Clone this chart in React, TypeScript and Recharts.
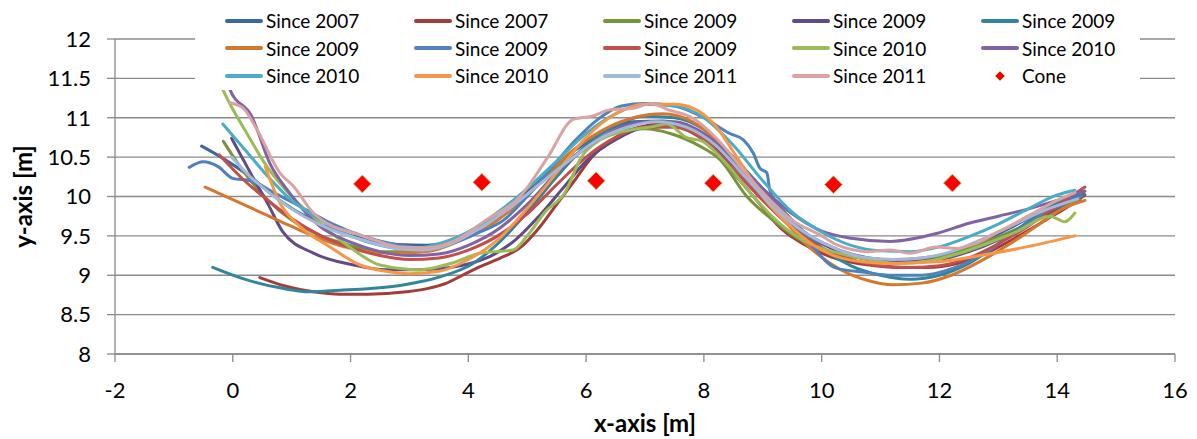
import React from 'react';
import {
  ComposedChart,
  Line,
  Scatter,
  XAxis,
  YAxis,
  CartesianGrid,
  Legend,
} from 'recharts';

type Pt = [number, number];

// driven track per run, [x, y] in metres
const since2007a: Pt[] = [
  [-0.53, 10.64], [-0.2, 10.5], [0.3, 10.25], [0.8, 9.95], [1.3, 9.72], [1.8, 9.55],
  [2.3, 9.45], [2.8, 9.39], [3.3, 9.38], [3.8, 9.46], [4.3, 9.65], [4.8, 9.92],
  [5.3, 10.27], [5.8, 10.58], [6.3, 10.82], [6.8, 10.95], [7.3, 10.96], [7.8, 10.86],
  [8.3, 10.6], [8.8, 10.2], [9.3, 9.8], [9.8, 9.5], [10.3, 9.32], [10.8, 9.22],
  [11.3, 9.19], [11.8, 9.21], [12.3, 9.3], [12.8, 9.45], [13.3, 9.64], [13.8, 9.84],
  [14.4, 10.02],
];
const since2007b: Pt[] = [
  [0.46, 8.97], [0.9, 8.86], [1.37, 8.79], [1.82, 8.76], [2.3, 8.76], [2.95, 8.79],
  [3.3, 8.83], [3.63, 8.9], [3.9, 9.0], [4.2, 9.11], [4.55, 9.22], [4.88, 9.35],
  [5.2, 9.6], [5.5, 9.9], [5.8, 10.2], [6.1, 10.5], [6.5, 10.75], [6.9, 10.88],
  [7.3, 10.92], [7.7, 10.85], [8.1, 10.65], [8.5, 10.3], [8.9, 9.95], [9.3, 9.6],
  [9.8, 9.35], [10.3, 9.2], [10.8, 9.13], [11.3, 9.1], [11.8, 9.1], [12.3, 9.15],
  [12.8, 9.28], [13.3, 9.48], [13.8, 9.7], [14.2, 9.88], [14.47, 10.02],
];
const since2009a: Pt[] = [
  [-0.16, 10.7], [0.2, 10.3], [0.6, 9.95], [1.0, 9.7], [1.5, 9.5], [2.0, 9.38],
  [2.5, 9.3], [3.0, 9.3], [3.5, 9.38], [4.0, 9.54], [4.5, 9.74], [5.0, 10.02],
  [5.5, 10.36], [6.0, 10.62], [6.58, 10.84], [7.0, 10.86], [7.43, 10.8], [7.93, 10.64],
  [8.27, 10.47], [8.73, 10.0], [9.17, 9.7], [9.7, 9.42], [10.2, 9.28], [10.7, 9.22],
  [11.2, 9.2], [11.7, 9.22], [12.2, 9.28], [12.7, 9.4], [13.2, 9.55], [13.7, 9.72],
  [14.2, 9.9], [14.4, 9.95],
];
const since2009b: Pt[] = [
  [-0.02, 10.74], [0.3, 10.3], [0.6, 9.9], [0.85, 9.55], [1.37, 9.28], [2.05, 9.13],
  [2.6, 9.07], [3.2, 9.07], [3.7, 9.1], [4.03, 9.15], [4.37, 9.24], [4.8, 9.45],
  [5.2, 9.75], [5.6, 10.1], [6.0, 10.45], [6.5, 10.72], [7.0, 10.88], [7.5, 10.9],
  [8.0, 10.75], [8.5, 10.4], [9.0, 10.0], [9.5, 9.65], [10.0, 9.4], [10.5, 9.25],
  [11.0, 9.18], [11.5, 9.17], [12.0, 9.2], [12.5, 9.3], [13.0, 9.45], [13.5, 9.65],
  [14.0, 9.85], [14.45, 10.05],
];
const since2009c: Pt[] = [
  [-0.34, 9.1], [0.2, 8.95], [0.8, 8.84], [1.31, 8.79], [1.82, 8.81], [2.3, 8.83],
  [2.84, 8.87], [3.2, 8.92], [3.52, 8.98], [4.08, 9.15], [4.5, 9.4], [5.0, 9.8],
  [5.5, 10.25], [6.0, 10.65], [6.5, 10.9], [7.0, 11.02], [7.5, 11.0], [8.0, 10.85],
  [8.5, 10.5], [9.0, 10.1], [9.5, 9.7], [10.0, 9.35], [10.5, 9.12], [11.0, 9.0],
  [11.5, 8.95], [12.0, 9.0], [12.5, 9.15], [13.0, 9.4], [13.5, 9.68], [14.0, 9.92],
  [14.44, 10.02],
];
const since2009d: Pt[] = [
  [-0.47, 10.12], [0.0, 9.96], [0.5, 9.79], [1.0, 9.62], [1.5, 9.46], [1.9, 9.36],
  [2.3, 9.3], [2.8, 9.28], [3.3, 9.3], [3.8, 9.42], [4.3, 9.6], [4.8, 9.88],
  [5.3, 10.25], [5.8, 10.6], [6.3, 10.85], [6.8, 11.0], [7.3, 11.05], [7.8, 10.95],
  [8.3, 10.65], [8.8, 10.2], [9.3, 9.75], [9.8, 9.35], [10.3, 9.08], [10.8, 8.93],
  [11.2, 8.88], [11.7, 8.9], [12.2, 9.0], [12.7, 9.18], [13.2, 9.4], [13.7, 9.65],
  [14.1, 9.85], [14.47, 9.95],
];
const since2009e: Pt[] = [
  [-0.74, 10.37], [-0.5, 10.44], [-0.25, 10.38], [0.0, 10.23], [0.3, 10.2], [0.7, 10.05],
  [1.2, 9.85], [1.7, 9.65], [2.2, 9.5], [2.7, 9.4], [3.2, 9.35], [3.7, 9.4],
  [4.2, 9.55], [4.6, 9.7], [5.0, 10.0], [5.4, 10.35], [5.8, 10.7], [6.2, 10.98],
  [6.6, 11.15], [7.0, 11.18], [7.5, 11.15], [8.0, 11.0], [8.44, 10.8], [8.67, 10.72],
  [8.84, 10.55], [8.95, 10.36], [9.07, 10.3], [9.12, 10.08], [9.3, 9.85], [9.7, 9.5],
  [10.25, 9.09], [10.7, 9.04], [11.2, 9.0], [11.7, 9.0], [12.2, 9.08], [12.7, 9.25],
  [13.2, 9.5], [13.7, 9.75], [14.4, 10.0],
];
const since2009f: Pt[] = [
  [-0.23, 10.53], [0.2, 10.2], [0.6, 9.95], [1.0, 9.72], [1.5, 9.5], [2.0, 9.35],
  [2.5, 9.25], [3.0, 9.2], [3.5, 9.22], [4.0, 9.32], [4.5, 9.5], [5.0, 9.78],
  [5.5, 10.15], [6.0, 10.5], [6.5, 10.75], [7.0, 10.88], [7.5, 10.88], [8.0, 10.72],
  [8.5, 10.35], [9.0, 9.95], [9.5, 9.6], [10.0, 9.35], [10.5, 9.2], [11.0, 9.12],
  [11.5, 9.1], [12.0, 9.12], [12.5, 9.22], [13.0, 9.4], [13.5, 9.62], [14.0, 9.88],
  [14.47, 10.12],
];
const since2010a: Pt[] = [
  [-0.25, 11.5], [-0.17, 11.36], [0.24, 10.8], [0.58, 10.38], [1.0, 10.0], [1.5, 9.65],
  [2.0, 9.35], [2.5, 9.13], [3.18, 9.07], [3.7, 9.15], [4.2, 9.28], [4.76, 9.32],
  [5.0, 9.5], [5.3, 9.8], [5.64, 10.05], [5.92, 10.5], [6.2, 10.7], [6.6, 10.82],
  [7.14, 10.89], [7.37, 10.92], [7.7, 10.75], [7.98, 10.7], [8.16, 10.59], [8.4, 10.4],
  [8.84, 10.0], [9.3, 9.65], [9.8, 9.4], [10.3, 9.28], [10.8, 9.2], [11.3, 9.15],
  [11.8, 9.18], [12.3, 9.27], [12.8, 9.4], [13.3, 9.55], [13.88, 9.75], [14.13, 9.68],
  [14.3, 9.79],
];
const since2010b: Pt[] = [
  [-0.1, 11.5], [-0.05, 11.36], [0.32, 11.02], [0.63, 10.42], [0.97, 10.04], [1.48, 9.62],
  [2.0, 9.42], [2.5, 9.3], [3.0, 9.25], [3.5, 9.27], [4.0, 9.38], [4.5, 9.58],
  [5.0, 9.9], [5.5, 10.3], [6.0, 10.62], [6.5, 10.85], [7.0, 10.95], [7.5, 10.95],
  [8.0, 10.8], [8.5, 10.48], [9.0, 10.1], [9.5, 9.78], [10.0, 9.56], [10.5, 9.47],
  [11.16, 9.43], [11.95, 9.53], [12.5, 9.66], [13.0, 9.75], [13.5, 9.84], [14.0, 9.95],
  [14.47, 10.07],
];
const since2010c: Pt[] = [
  [-0.17, 10.92], [0.2, 10.6], [0.6, 10.25], [1.0, 9.95], [1.5, 9.7], [2.0, 9.5],
  [2.5, 9.38], [3.0, 9.33], [3.5, 9.4], [4.0, 9.55], [4.5, 9.8], [5.0, 10.1],
  [5.5, 10.45], [6.0, 10.8], [6.5, 11.05], [7.0, 11.17], [7.5, 11.15], [8.0, 11.0],
  [8.5, 10.65], [9.0, 10.2], [9.5, 9.8], [10.0, 9.55], [10.5, 9.38], [11.0, 9.31],
  [11.5, 9.3], [12.0, 9.36], [12.5, 9.49], [13.0, 9.65], [13.5, 9.84], [14.0, 10.02],
  [14.3, 10.08],
];
const since2010d: Pt[] = [
  [0.55, 10.38], [0.8, 9.92], [1.14, 9.62], [1.65, 9.36], [2.16, 9.13], [2.6, 9.05],
  [3.0, 9.02], [3.5, 9.05], [4.0, 9.2], [4.5, 9.45], [5.0, 9.85], [5.5, 10.3],
  [6.0, 10.75], [6.5, 11.05], [7.0, 11.17], [7.5, 11.17], [7.82, 11.12], [8.16, 10.93],
  [8.56, 10.5], [9.0, 10.0], [9.5, 9.6], [10.0, 9.32], [10.25, 9.24], [10.7, 9.17],
  [11.16, 9.15], [11.95, 9.17], [12.69, 9.25], [13.48, 9.36], [14.3, 9.5],
];
const since2011a: Pt[] = [
  [-0.02, 10.5], [0.3, 10.25], [0.7, 10.0], [1.2, 9.75], [1.7, 9.57], [2.2, 9.45],
  [2.7, 9.35], [3.2, 9.32], [3.7, 9.4], [4.2, 9.6], [4.7, 9.85], [5.2, 10.15],
  [5.7, 10.45], [6.2, 10.72], [6.7, 10.88], [7.2, 10.95], [7.7, 10.88], [8.2, 10.65],
  [8.7, 10.25], [9.2, 9.85], [9.7, 9.55], [10.2, 9.35], [10.7, 9.23], [11.2, 9.2],
  [11.7, 9.22], [12.2, 9.3], [12.7, 9.45], [13.2, 9.62], [13.7, 9.8], [14.35, 9.97],
];
const since2011b: Pt[] = [
  [-0.05, 11.19], [0.18, 11.12], [0.41, 10.85], [0.8, 10.3], [1.03, 10.13], [1.37, 9.79],
  [1.7, 9.62], [2.0, 9.55], [2.4, 9.45], [2.84, 9.36], [3.3, 9.35], [3.8, 9.45],
  [4.3, 9.7], [4.88, 10.0], [5.35, 10.5], [5.78, 10.98], [6.1, 11.02], [6.4, 11.1],
  [6.8, 11.12], [7.1, 11.18], [7.4, 11.1], [7.8, 11.0], [8.2, 10.75], [8.6, 10.4],
  [9.0, 10.05], [9.5, 9.7], [10.0, 9.5], [10.25, 9.39], [10.82, 9.3], [11.16, 9.32],
  [11.5, 9.28], [11.95, 9.36], [12.29, 9.34], [12.6, 9.4], [13.0, 9.55], [13.5, 9.75],
  [14.0, 9.95], [14.3, 10.05],
];

// cone positions
const conePoints: Pt[] = [
  [2.2, 10.16], [4.23, 10.18], [6.17, 10.2], [8.16, 10.17], [10.2, 10.15], [12.22, 10.17],
];

const runLabels = [
  'Since 2007', 'Since 2007', 'Since 2009', 'Since 2009', 'Since 2009',
  'Since 2009', 'Since 2009', 'Since 2009', 'Since 2010', 'Since 2010',
  'Since 2010', 'Since 2010', 'Since 2011', 'Since 2011',
];
const runPoints = [
  since2007a, since2007b, since2009a, since2009b, since2009c,
  since2009d, since2009e, since2009f, since2010a, since2010b,
  since2010c, since2010d, since2011a, since2011b,
];
const coneLabel = 'Cone';

const xTicks = [-2, 0, 2, 4, 6, 8, 10, 12, 14, 16];
const yTicks = [8, 8.5, 9, 9.5, 10, 10.5, 11, 11.5, 12];

const runColors = [
  '#3B67A1', '#A23D3A', '#77933C', '#614B85', '#31859C',
  '#D4782F', '#4F81BD', '#C0504D', '#9BBB59', '#8064A2',
  '#4BACC6', '#F79646', '#A4B8DA', '#D8A3A2',
];

const FONT = 'Lato, "Open Sans", sans-serif';
const GRID = '#8A8A8A';

const toRows = (pts: Pt[]) => pts.map(([x, y]) => ({ x, y }));

const Diamond = ({ cx, cy, r }: { cx: number; cy: number; r: number }) => (
  <polygon
    points={`${cx},${cy - r} ${cx + r},${cy} ${cx},${cy + r} ${cx - r},${cy}`}
    fill="#FF0000"
    stroke="#C4D79B"
    strokeWidth={1}
  />
);

function RunLegend() {
  return (
    <div
      style={{
        display: 'grid',
        gridTemplateColumns: 'repeat(5, 189px)',
        gridAutoRows: '27.5px',
        paddingLeft: 30,
        background: '#fff',
        fontFamily: FONT,
        fontSize: 19,
        color: '#000',
      }}
    >
      {runLabels.map((label, i) => (
        <div key={i} style={{ display: 'flex', alignItems: 'center' }}>
          <span
            style={{
              width: 38,
              height: 4,
              borderRadius: 2,
              background: runColors[i],
              marginRight: 3,
            }}
          />
          <span>{label}</span>
        </div>
      ))}
      <div style={{ display: 'flex', alignItems: 'center' }}>
        <svg width={38} height={14} style={{ marginRight: 3 }}>
          <Diamond cx={19} cy={7} r={5} />
        </svg>
        <span>{coneLabel}</span>
      </div>
    </div>
  );
}

const XTitle = (props: any) => {
  const { x, y, width, height } = props.viewBox;
  return (
    <text
      x={x + width / 2}
      y={y + height - 7}
      textAnchor="middle"
      fontFamily={FONT}
      fontSize={24}
      fontWeight="bold"
      fill="#000"
    >
      x-axis [m]
    </text>
  );
};

const YTitle = (props: any) => {
  const { x, y, height } = props.viewBox;
  const cx = x + 22;
  const cy = y + height / 2;
  return (
    <text
      x={cx}
      y={cy}
      transform={`rotate(-90, ${cx}, ${cy})`}
      textAnchor="middle"
      dominantBaseline="central"
      fontFamily={FONT}
      fontSize={24}
      fontWeight="bold"
      fill="#000"
    >
      y-axis [m]
    </text>
  );
};

export default function App() {
  const tickStyle = { fontFamily: FONT, fontSize: 22, fill: '#000' };
  return (
    <div style={{ position: 'absolute', left: 0, top: 0, width: 1197, height: 439, background: '#fff' }}>
      <ComposedChart width={1197} height={439} margin={{ top: 39, right: 22, bottom: 0, left: 0 }}>
        <CartesianGrid vertical={false} stroke={GRID} strokeWidth={1.3} />
        <XAxis
          type="number"
          dataKey="x"
          domain={[-2, 16]}
          ticks={xTicks}
          allowDataOverflow
          height={85}
          tickSize={8}
          tickMargin={20}
          tick={tickStyle}
          axisLine={{ stroke: GRID, strokeWidth: 1.3 }}
          tickLine={{ stroke: GRID, strokeWidth: 1.3 }}
          label={{ content: XTitle }}
        />
        <YAxis
          type="number"
          domain={[8, 12]}
          ticks={yTicks}
          allowDataOverflow
          width={115}
          tickSize={8}
          tickMargin={16}
          tick={tickStyle}
          axisLine={{ stroke: GRID, strokeWidth: 1.3 }}
          tickLine={{ stroke: GRID, strokeWidth: 1.3 }}
          label={{ content: YTitle }}
        />
        {runPoints.map((pts, i) => (
          <Line
            key={i}
            data={toRows(pts)}
            dataKey="y"
            name={runLabels[i]}
            type="monotone"
            stroke={runColors[i]}
            strokeWidth={3}
            strokeLinecap="round"
            strokeLinejoin="round"
            dot={false}
            activeDot={false}
            isAnimationActive={false}
          />
        ))}
        <Scatter
          data={toRows(conePoints)}
          dataKey="y"
          name={coneLabel}
          shape={(p: any) => <Diamond cx={p.cx} cy={p.cy} r={9} />}
          isAnimationActive={false}
        />
        <Legend
          verticalAlign="middle"
          align="center"
          content={() => <RunLegend />}
          wrapperStyle={{ left: 195, top: 7, width: 945, height: 83 }}
        />
      </ComposedChart>
    </div>
  );
}
